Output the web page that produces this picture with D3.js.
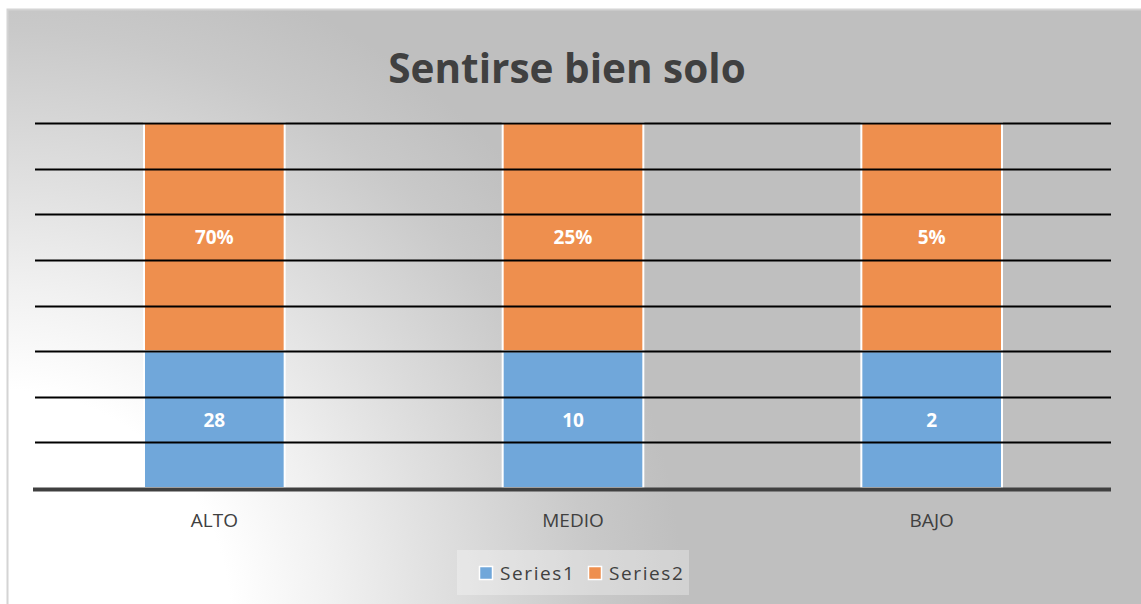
<!DOCTYPE html>
<html>
<head>
<meta charset="utf-8">
<script src="https://cdn.jsdelivr.net/npm/d3@7"></script>
<style>
  body { margin: 0; background: #fff; }
  svg { display: block; font-family: "Open Sans", "Noto Sans", sans-serif; }
</style>
</head>
<body>
<div id="chart"></div>
<script>
var categories = ["ALTO", "MEDIO", "BAJO"];
// share of the 100% stacked column taken by each series
var series1Share = [37.5, 37.5, 37.5];
var series2Share = [62.5, 62.5, 62.5];
// data labels as shown on the chart
var series1Labels = ["28", "10", "2"];
var series2Labels = ["70%", "25%", "5%"];
var seriesNames = ["Series1", "Series2"];
var yTicks = [0, 12.5, 25, 37.5, 50, 62.5, 75, 87.5, 100];

var svgWidth = 1141;
var svgHeight = 604;
var colors = ["#70a7da", "#ee8f4e"];

var svg = d3.select("#chart")
    .append("svg")
    .attr("width", svgWidth)
    .attr("height", svgHeight);

var defs = svg.append("defs");
var grad = defs.append("radialGradient")
    .attr("id", "bg")
    .attr("gradientUnits", "userSpaceOnUse")
    .attr("cx", 0).attr("cy", 620).attr("r", 720);
[[0, "#ffffff"], [0.32, "#ffffff"], [0.46, "#f1f1f1"], [0.6, "#e1e1e1"],
 [0.7, "#d6d6d6"], [0.82, "#c9c9c9"], [0.95, "#bfbfbf"], [1, "#bfbfbf"]].forEach(function (s) {
    grad.append("stop").attr("offset", s[0]).attr("stop-color", s[1]);
});

// chart area background
svg.append("rect")
    .attr("x", 7.5).attr("y", 9.5)
    .attr("width", svgWidth).attr("height", svgHeight)
    .attr("fill", "url(#bg)")
    .attr("stroke", "#d4d4d4")
    .attr("stroke-width", 2);

var margin = { top: 123, left: 35, right: 30, bottom: 116 };
var width = svgWidth - margin.left - margin.right;
var height = svgHeight - margin.top - margin.bottom;

var g = svg.append("g")
    .attr("transform", `translate(${margin.left}, ${margin.top})`);

var x = d3.scaleBand()
    .domain(categories)
    .range([0, width])
    .padding(0);

var y = d3.scaleLinear()
    .domain([0, 100])
    .range([height, 0]);

// gap width 155%
var barW = x.bandwidth() / 2.55;

var rows = categories.map(function (c, i) {
    return { cat: c, s1: series1Share[i], s2: series2Share[i], l1: series1Labels[i], l2: series2Labels[i] };
});
var stacked = d3.stack().keys(["s1", "s2"])(rows);

// bar fills
var layers = g.selectAll(".layer")
    .data(stacked)
    .enter()
    .append("g")
    .attr("fill", (d, i) => colors[i]);

layers.selectAll("rect")
    .data(d => d)
    .enter()
    .append("rect")
    .attr("x", d => x(d.data.cat) + (x.bandwidth() - barW) / 2)
    .attr("y", d => y(d[1]))
    .attr("width", barW)
    .attr("height", d => y(d[0]) - y(d[1]));

// gridlines over the fills
g.append("g")
    .selectAll("line")
    .data(yTicks.slice(1))
    .enter()
    .append("line")
    .attr("x1", 0).attr("x2", width)
    .attr("y1", d => Math.round(y(d)) + 0.5)
    .attr("y2", d => Math.round(y(d)) + 0.5)
    .attr("stroke", "#000")
    .attr("stroke-width", 2);

// white bar outlines
layers.selectAll(".outline")
    .data(d => d)
    .enter()
    .append("rect")
    .attr("class", "outline")
    .attr("x", d => x(d.data.cat) + (x.bandwidth() - barW) / 2)
    .attr("y", d => y(d[1]))
    .attr("width", barW)
    .attr("height", d => y(d[0]) - y(d[1]))
    .attr("fill", "none")
    .attr("stroke", "#fff")
    .attr("stroke-width", 2);

// data labels
layers.selectAll(".lbl")
    .data((d, i) => d.map(v => ({ v: v, i: i })))
    .enter()
    .append("text")
    .attr("x", d => x(d.v.data.cat) + x.bandwidth() / 2)
    .attr("y", d => (y(d.v[0]) + y(d.v[1])) / 2 + 7)
    .attr("text-anchor", "middle")
    .attr("fill", "#fff")
    .attr("font-weight", "bold")
    .attr("font-size", 19)
    .text(d => d.i === 0 ? d.v.data.l1 : d.v.data.l2);

// category axis
var xAxis = g.append("g")
    .attr("transform", `translate(0, ${height})`)
    .call(d3.axisBottom(x).tickSize(0).tickPadding(26));
xAxis.select(".domain")
    .attr("stroke", "#404040")
    .attr("stroke-width", 4)
    .attr("d", `M-2,1.5H${width}`);
xAxis.selectAll("text")
    .attr("fill", "#404040")
    .attr("font-size", 19)
    .attr("font-family", "\"Open Sans\", sans-serif");

// title
svg.append("text")
    .attr("x", 567)
    .attr("y", 83)
    .attr("text-anchor", "middle")
    .attr("fill", "#404040")
    .attr("font-weight", "bold")
    .attr("font-size", 40.5)
    .text("Sentirse bien solo");

// legend
var legend = svg.append("g");
legend.append("rect")
    .attr("x", 457).attr("y", 550)
    .attr("width", 232).attr("height", 45)
    .attr("fill", "#ffffff")
    .attr("opacity", 0.3);

var legendX = [479, 588];
seriesNames.forEach(function (name, i) {
    legend.append("rect")
        .attr("x", legendX[i] + 0.5).attr("y", 566.5)
        .attr("width", 13).attr("height", 13)
        .attr("fill", colors[i])
        .attr("stroke", "#fff")
        .attr("stroke-width", 1.5);
    legend.append("text")
        .attr("x", legendX[i] + 21)
        .attr("y", 580)
        .attr("fill", "#404040")
        .attr("font-size", 19)
        .attr("letter-spacing", 1.6)
        .text(name);
});
</script>
</body>
</html>
